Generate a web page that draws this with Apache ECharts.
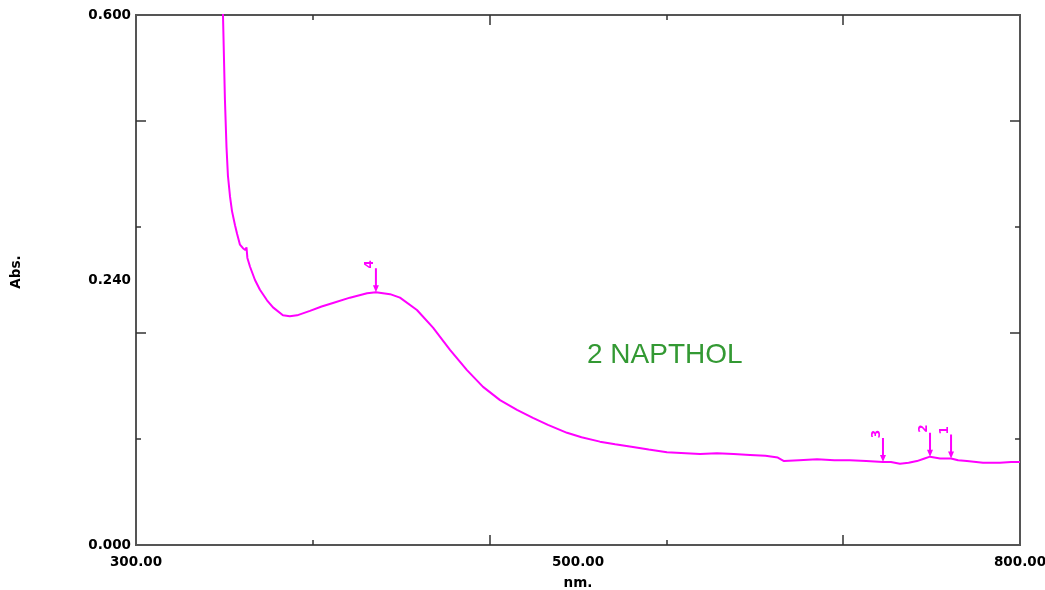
<!DOCTYPE html>
<html>
<head>
<meta charset="utf-8">
<title>2 NAPTHOL</title>
<script src="https://cdn.jsdelivr.net/npm/echarts@6/dist/echarts.min.js"></script>
<style>
  html, body { margin: 0; padding: 0; background: #fff; }
  #chart { width: 1045px; height: 590px; }
</style>
</head>
<body>
<div id="chart"></div>
<script>
// spectrum (nm / Abs.)
const wavelength = [
  348.2, 349.2, 350.3, 351.2, 352.0, 353.2, 354.3, 356.0, 356.6, 357.2,
  358.8, 360.5, 361.8, 362.5, 363.0, 364.5, 367.3, 370.1, 374.1, 377.5,
  383.1, 387.0, 391.1, 398.4, 405.0, 411.4, 421.0, 430.7, 435.7, 443.7,
  449.3, 458.9, 468.0, 477.6, 487.2, 496.3, 505.9, 515.5, 524.5, 533.0,
  543.8, 552.0, 562.4, 571.0, 581.1, 590.0, 600.3, 619.0, 628.6, 638.0,
  647.3, 656.0, 663.0, 666.5, 675.0, 685.2, 695.0, 703.8, 713.0, 722.5,
  727.0, 732.1, 737.0, 741.7, 746.0, 749.1, 754.8, 761.0, 765.0, 770.0,
  779.1, 788.7, 795.0, 800.0
]
const absorbance = [
  0.700, 0.600, 0.504, 0.450, 0.418, 0.394, 0.378, 0.362, 0.364, 0.352,
  0.340, 0.336, 0.334, 0.337, 0.325, 0.315, 0.300, 0.289, 0.277, 0.269,
  0.260, 0.259, 0.260, 0.265, 0.270, 0.274, 0.280, 0.285, 0.286, 0.284,
  0.280, 0.266, 0.246, 0.221, 0.198, 0.179, 0.164, 0.153, 0.144, 0.136,
  0.127, 0.122, 0.117, 0.114, 0.111, 0.108, 0.105, 0.103, 0.104, 0.103,
  0.102, 0.101, 0.099, 0.095, 0.096, 0.097, 0.096, 0.096, 0.095, 0.094,
  0.094, 0.092, 0.093, 0.095, 0.098, 0.100, 0.098, 0.098, 0.096, 0.095,
  0.093, 0.093, 0.094, 0.094
]

// picked peaks
const peakNo = ['1', '2', '3', '4']
const peakNm = [761.0, 749.1, 722.5, 435.7]
const peakAbs = [0.098, 0.100, 0.094, 0.286]

// axis ticks / labels as printed by the instrument
const xLabelAt = [300, 550, 800]
const xLabelText = ['300.00', '500.00', '800.00']
const xShortTicks = [400, 600]
const xLongTicks = [500, 700]
const yLabelAt = [0, 0.3, 0.6]
const yLabelText = ['0.000', '0.240', '0.600']
const yShortTicks = [0.12, 0.36]
const yLongTicks = [0.24, 0.48]

const sampleName = '2 NAPTHOL'

const lineColor = '#555555'
const tickColor = '#333333'
const labelFont = {
  color: '#000000',
  fontFamily: 'DejaVu Sans',
  fontWeight: 'bold',
  fontSize: 13.5
}

function tickAxis(pos, min, max, ticks, len, extra) {
  return Object.assign({
    type: 'value',
    position: pos,
    min: min,
    max: max,
    axisLine: { show: true, onZero: false, lineStyle: { color: lineColor, width: 2 } },
    axisTick: { show: true, inside: true, length: len, customValues: ticks, lineStyle: { color: tickColor, width: 1.5 } },
    axisLabel: { show: false },
    splitLine: { show: false }
  }, extra || {})
}

const chart = echarts.init(document.getElementById('chart'), null, { renderer: 'canvas' })

chart.setOption({
  backgroundColor: '#ffffff',
  animation: false,
  grid: {
    left: 136,
    right: 25,
    top: 15,
    bottom: 45,
    containLabel: false,
    outerBoundsMode: 'none'
  },
  xAxis: [
    tickAxis('bottom', 300, 800, xShortTicks, 5, {
      name: 'nm.',
      nameLocation: 'middle',
      nameGap: 31,
      nameTextStyle: labelFont,
      axisLabel: Object.assign({
        show: true,
        margin: 10,
        customValues: xLabelAt,
        formatter: function (v) {
          return xLabelText[xLabelAt.indexOf(v)]
        }
      }, labelFont)
    }),
    tickAxis('bottom', 300, 800, xLongTicks, 10),
    tickAxis('top', 300, 800, xShortTicks, 5),
    tickAxis('top', 300, 800, xLongTicks, 10)
  ],
  yAxis: [
    tickAxis('left', 0, 0.6, yShortTicks, 5, {
      name: 'Abs.',
      nameLocation: 'middle',
      nameRotate: 90,
      nameGap: 113,
      nameTextStyle: Object.assign({ padding: [0, 0, 0, 16] }, labelFont),
      axisLabel: Object.assign({
        show: true,
        margin: 5,
        customValues: yLabelAt,
        formatter: function (v) {
          return yLabelText[yLabelAt.indexOf(v)]
        }
      }, labelFont)
    }),
    tickAxis('left', 0, 0.6, yLongTicks, 10),
    tickAxis('right', 0, 0.6, yShortTicks, 5),
    tickAxis('right', 0, 0.6, yLongTicks, 10)
  ],
  graphic: [{
    type: 'text',
    x: 587,
    y: 355,
    style: {
      text: sampleName,
      fill: '#339933',
      fontFamily: 'Liberation Sans',
      fontSize: 28,
      verticalAlign: 'middle'
    }
  }],
  series: [{
    type: 'line',
    xAxisIndex: 0,
    yAxisIndex: 0,
    clip: true,
    showSymbol: false,
    symbol: 'none',
    lineStyle: { color: '#ff00ff', width: 2 },
    data: wavelength.map((w, i) => [w, absorbance[i]]),
    markPoint: {
      symbol: 'path://M2,0 L4,0 L4,17 L6,17 L3,24 L0,17 L2,17 Z',
      symbolSize: [6, 24],
      symbolOffset: [0, '-50%'],
      itemStyle: { color: '#ff00ff' },
      label: {
        show: true,
        position: 'top',
        distance: 4,
        rotate: 90,
        color: '#ff00ff',
        fontFamily: 'DejaVu Sans',
        fontWeight: 'bold',
        fontSize: 12,
        formatter: function (p) {
          return p.value
        }
      },
      data: peakNm.map((w, i) => ({ coord: [w, peakAbs[i]], value: peakNo[i] }))
    }
  }]
})
</script>
</body>
</html>
